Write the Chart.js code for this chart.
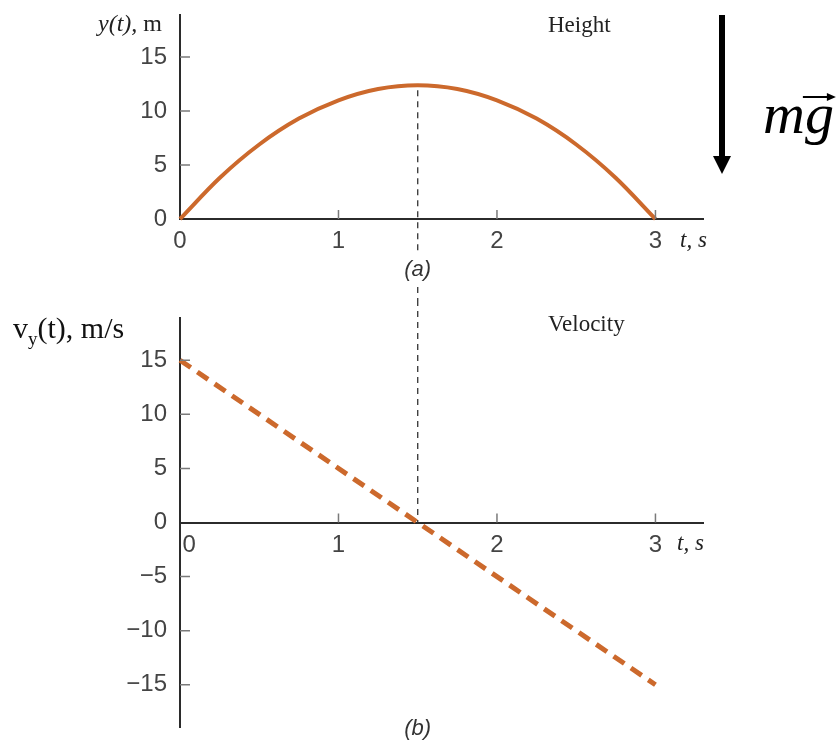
<!DOCTYPE html>
<html>
<head>
<meta charset="utf-8">
<title>Projectile height and velocity</title>
<script src="https://cdn.jsdelivr.net/npm/chart.js@4.4.1/dist/chart.umd.min.js"></script>
<style>
  html, body { margin: 0; background: #fff; }
  #wrap { position: relative; width: 840px; height: 740px; overflow: hidden; }
  #wrap canvas { position: absolute; left: 0; }
  #heightChart { top: 0; }
  #velocityChart { top: 300px; }
</style>
</head>
<body>
<div id="wrap">
  <canvas id="heightChart" width="840" height="300"></canvas>
  <canvas id="velocityChart" width="840" height="440"></canvas>
</div>
<script>
// height of the ball (m) sampled every quarter second
const timeSteps = [0, 0.25, 0.5, 0.75, 1, 1.25, 1.5, 1.75, 2, 2.25, 2.5, 2.75, 3];
const heightValues = [0, 3.8, 6.9, 9.3, 11.0, 12.05, 12.4, 12.05, 11.0, 9.3, 6.9, 3.8, 0];

// vertical velocity (m/s), a straight line through zero at the top of the flight
const velocityTimes = [0, 1.5, 3];
const velocityValues = [15, 0, -15];

const timeTicks = [0, 1, 2, 3];
const heightTicks = [0, 5, 10, 15];
const velocityTicks = [-15, -10, -5, 0, 5, 10, 15];

const peakIndex = 6;

const ORANGE = '#cc692c';
const INK = '#2b2b2b';
const TICK_COLOR = '#7a7a7a';
const SANS = "'Liberation Sans Narrow', 'Liberation Sans', sans-serif";
const SERIF = "'Liberation Serif', 'DejaVu Serif', serif";
const TICK_FONT = { family: SANS, size: 24 };

function fixedTicks(values) {
  return scale => { scale.ticks = values.map(v => ({ value: v })); };
}

function minusSign(v) {
  return v < 0 ? '\u2212' + Math.abs(v) : String(v);
}

// keep the plot box where the layout padding puts it
function noLabelPadding(s) {
  s.paddingTop = 0;
  s.paddingBottom = 0;
  s.paddingLeft = 0;
  s.paddingRight = 0;
}

function axisStyle() {
  return {
    grid: { display: true, drawOnChartArea: false, drawTicks: false },
    border: { display: true, color: INK, width: 2 }
  };
}

// small tick marks pointing into the plot
function drawInnerTicks(ctx, xScale, yScale, xAxisPx, yAxisPx, xVals, yVals) {
  ctx.save();
  ctx.strokeStyle = TICK_COLOR;
  ctx.lineWidth = 1.5;
  ctx.beginPath();
  xVals.filter(v => v !== 0).forEach(v => {
    const px = xScale.getPixelForValue(v);
    ctx.moveTo(px, xAxisPx);
    ctx.lineTo(px, xAxisPx - 9);
  });
  yVals.filter(v => v !== 0).forEach(v => {
    const py = yScale.getPixelForValue(v);
    ctx.moveTo(yAxisPx, py);
    ctx.lineTo(yAxisPx + 10, py);
  });
  ctx.stroke();
  ctx.restore();
}

function dashedVertical(ctx, x, y0, y1) {
  ctx.save();
  ctx.strokeStyle = '#333';
  ctx.lineWidth = 1.3;
  ctx.setLineDash([6, 5]);
  ctx.beginPath();
  ctx.moveTo(x, y0);
  ctx.lineTo(x, y1);
  ctx.stroke();
  ctx.restore();
}

function text(ctx, str, x, y, font, align, baseline, color) {
  ctx.font = font;
  ctx.textAlign = align || 'left';
  ctx.textBaseline = baseline || 'alphabetic';
  ctx.fillStyle = color || '#222';
  ctx.fillText(str, x, y);
}

const heightDecor = {
  id: 'heightDecor',
  afterDraw(chart) {
    const { ctx, chartArea: area, scales: { x, y } } = chart;
    drawInnerTicks(ctx, x, y, area.bottom, area.left, timeTicks, heightTicks);

    const px = x.getPixelForValue(timeSteps[peakIndex]);
    const peakPx = y.getPixelForValue(heightValues[peakIndex]);
    dashedVertical(ctx, px, peakPx + 5, 252);
    dashedVertical(ctx, px, 287, chart.height);

    text(ctx, 't, s', 680, 247, 'italic 23px ' + SERIF);
    text(ctx, '(a)', px, 270, 'italic 22px ' + SANS, 'center', 'middle', '#333');
    text(ctx, 'Height', 548, 32, '23px ' + SERIF);

    // axis title: italic y(t), upright unit
    ctx.font = 'italic 24px ' + SERIF;
    const w = ctx.measureText('y(t),').width;
    text(ctx, 'y(t),', 98, 31, 'italic 24px ' + SERIF);
    text(ctx, ' m', 98 + w, 31, '24px ' + SERIF);

    // gravity arrow
    ctx.save();
    ctx.fillStyle = '#000';
    ctx.fillRect(719, 15, 6, 143);
    ctx.beginPath();
    ctx.moveTo(713, 156);
    ctx.lineTo(731, 156);
    ctx.lineTo(722, 174);
    ctx.closePath();
    ctx.fill();
    ctx.restore();

    const mgFont = 'italic 58px ' + SERIF;
    ctx.font = mgFont;
    const mw = ctx.measureText('m').width;
    text(ctx, 'mg', 763, 133, mgFont, 'left', 'alphabetic', '#000');
    const ax0 = 763 + mw - 2, ax1 = ax0 + 33, ay = 97;
    ctx.save();
    ctx.strokeStyle = '#000';
    ctx.fillStyle = '#000';
    ctx.lineWidth = 2;
    ctx.beginPath();
    ctx.moveTo(ax0, ay);
    ctx.lineTo(ax1 - 6, ay);
    ctx.stroke();
    ctx.beginPath();
    ctx.moveTo(ax1, ay);
    ctx.lineTo(ax1 - 9, ay - 4);
    ctx.lineTo(ax1 - 9, ay + 4);
    ctx.closePath();
    ctx.fill();
    ctx.restore();
  }
};

const velocityDecor = {
  id: 'velocityDecor',
  afterDraw(chart) {
    const { ctx, chartArea: area, scales: { x, y } } = chart;
    const zeroPx = y.getPixelForValue(0);
    drawInnerTicks(ctx, x, y, zeroPx, area.left, timeTicks, velocityTicks);

    const px = x.getPixelForValue(velocityTimes[1]);
    dashedVertical(ctx, px, 0, zeroPx);

    text(ctx, 't, s', 677, zeroPx + 27, 'italic 23px ' + SERIF);
    text(ctx, '(b)', px, 429, 'italic 22px ' + SANS, 'center', 'middle', '#333');
    text(ctx, 'Velocity', 548, 31, '23px ' + SERIF);

    // v_y(t), m/s with a subscript y
    ctx.font = '30px ' + SERIF;
    const vw = ctx.measureText('v').width;
    text(ctx, 'v', 13, 38, '30px ' + SERIF, 'left', 'alphabetic', '#111');
    ctx.font = '19px ' + SERIF;
    const yw = ctx.measureText('y').width;
    text(ctx, 'y', 13 + vw, 45, '19px ' + SERIF, 'left', 'alphabetic', '#111');
    text(ctx, '(t), m/s', 13 + vw + yw, 38, '30px ' + SERIF, 'left', 'alphabetic', '#111');
  }
};

Chart.defaults.animation = false;

new Chart(document.getElementById('heightChart'), {
  type: 'line',
  data: {
    datasets: [{
      data: timeSteps.map((t, i) => ({ x: t, y: heightValues[i] })),
      borderColor: ORANGE,
      borderWidth: 4,
      pointRadius: 0,
      cubicInterpolationMode: 'monotone',
      clip: false
    }]
  },
  options: {
    responsive: false,
    devicePixelRatio: 1,
    layout: { padding: { left: 0, right: 137, top: 15, bottom: 0 } },
    plugins: { legend: { display: false }, tooltip: { enabled: false } },
    scales: {
      x: {
        type: 'linear', min: 0, max: 3.3,
        afterBuildTicks: fixedTicks(timeTicks),
        afterFit: s => { noLabelPadding(s); s.height = 81; },
        ...axisStyle(),
        ticks: { font: TICK_FONT, color: '#444', padding: 8, maxRotation: 0, autoSkip: false }
      },
      y: {
        type: 'linear', min: 0, max: 18.9,
        afterBuildTicks: fixedTicks(heightTicks),
        afterFit: s => { noLabelPadding(s); s.width = 180; },
        ...axisStyle(),
        ticks: { font: TICK_FONT, color: '#444', padding: 13 }
      }
    }
  },
  plugins: [heightDecor]
});

new Chart(document.getElementById('velocityChart'), {
  type: 'line',
  data: {
    datasets: [{
      data: velocityTimes.map((t, i) => ({ x: t, y: velocityValues[i] })),
      borderColor: ORANGE,
      borderWidth: 5,
      borderDash: [13, 8],
      borderCapStyle: 'butt',
      pointRadius: 0,
      tension: 0,
      clip: false
    }]
  },
  options: {
    responsive: false,
    devicePixelRatio: 1,
    layout: { padding: { left: 0, right: 137, top: 18, bottom: 13 } },
    plugins: { legend: { display: false }, tooltip: { enabled: false } },
    scales: {
      x: {
        type: 'linear', min: 0, max: 3.3,
        position: { y: 0 },
        afterBuildTicks: fixedTicks(timeTicks),
        afterFit: noLabelPadding,
        ...axisStyle(),
        ticks: {
          font: TICK_FONT, color: '#444', padding: 8, maxRotation: 0, autoSkip: false,
          // nudge the origin label clear of the vertical axis
          callback: v => (v === 0 ? '\u2007\u20090' : String(v))
        }
      },
      y: {
        type: 'linear', min: -18.9, max: 18.9,
        afterBuildTicks: fixedTicks(velocityTicks),
        afterFit: s => { noLabelPadding(s); s.width = 180; },
        ...axisStyle(),
        ticks: { font: TICK_FONT, color: '#444', padding: 13, callback: v => minusSign(v) }
      }
    }
  },
  plugins: [velocityDecor]
});
</script>
</body>
</html>
